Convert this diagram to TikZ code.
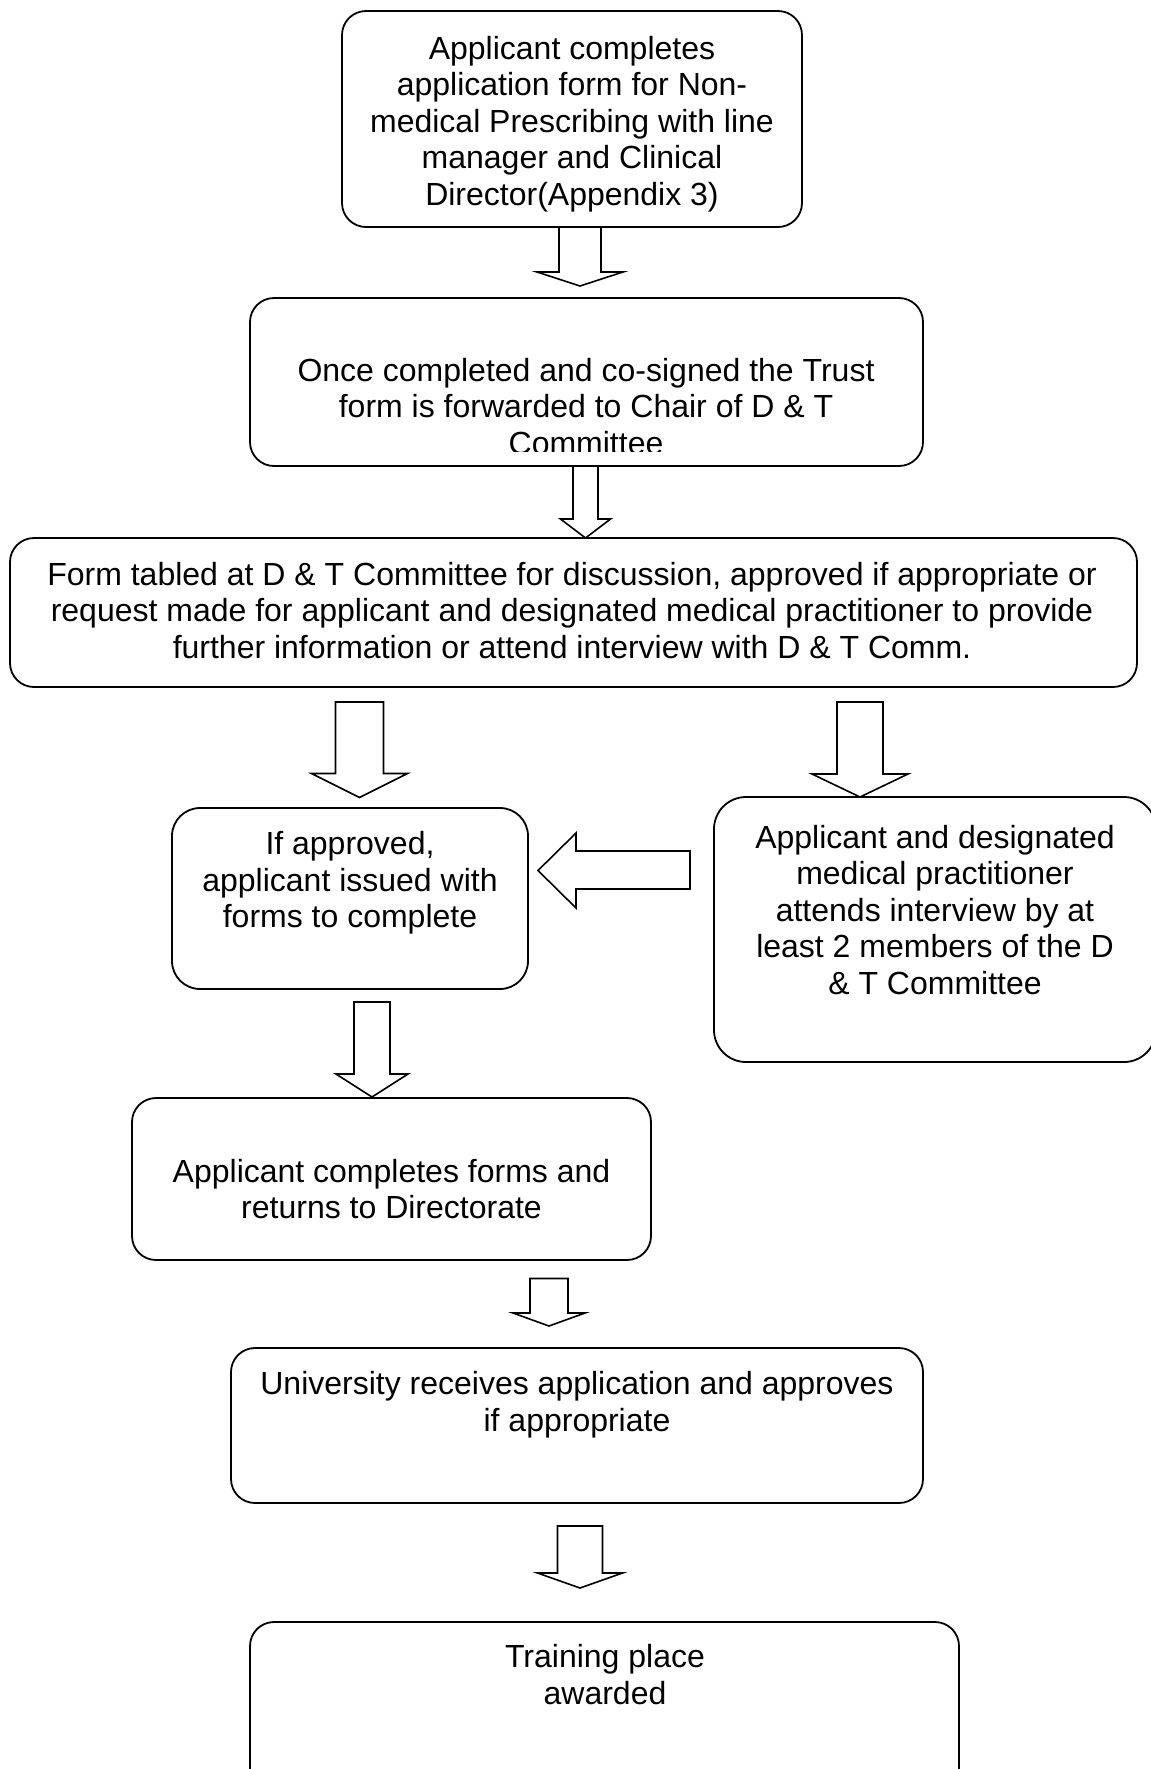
\documentclass[tikz,border=0pt]{standalone}
\usepackage{fontspec}
\setmainfont{Liberation Sans}
\newcommand{\dnarrow}[6]{%
  \draw[blk] (#1-#5,#2) -- (#1+#5,#2) -- (#1+#5,#3) -- (#1+#6,#3) -- (#1,#4) -- (#1-#6,#3) -- (#1-#5,#3) -- cycle;}
\begin{document}
\begin{tikzpicture}[x=0.5pt,y=-0.5pt,
  box/.style={draw=black, line width=0.9pt, rounded corners=12pt, rectangle, inner sep=0pt, outer sep=0pt},
  txt/.style={align=center, inner sep=0pt, outer sep=0pt, font=\fontsize{16}{18.25}\selectfont},
  blk/.style={draw=black, line width=0.8pt, fill=white, line join=miter}]
\useasboundingbox (0,0) rectangle (1151,1769);

% boxes
\node[box, minimum width=230pt, minimum height=108pt] (b1) at (572,119) {};
\node[box, minimum width=336.5pt, minimum height=84pt] (b2) at (586.5,382) {};
\node[box, minimum width=563.5pt, minimum height=74.5pt] (b3) at (573.5,612.5) {};
\node[box, minimum width=178pt, minimum height=90.5pt, rounded corners=14pt] (b4) at (350,898.5) {};
\node[box, minimum width=221pt, minimum height=132.5pt, rounded corners=16pt] (b5) at (935,929.5) {};
\node[box, minimum width=259.5pt, minimum height=81pt] (b6) at (391.5,1179) {};
\node[box, minimum width=346pt, minimum height=77.5pt] (b7) at (577,1425.5) {};
\node[box, minimum width=354.5pt, minimum height=89pt] (b8) at (604.5,1711) {};

% texts
\node[txt] (t1) at (572,125) {\strut Applicant completes\\application form for Non-\\medical Prescribing with line\\manager and Clinical\\Director(Appendix 3)\strut};
\begin{scope}
  \clip (250,298) rectangle (923,451);
  \node[txt] (t2) at (586,410.5) {\strut Once completed and co-signed the Trust\\form is forwarded to Chair of D \& T\\Committee\strut};
\end{scope}
\node[txt] (t3) at (572,614.2) {\strut Form tabled at D \& T Committee for discussion, approved if appropriate or\\request made for applicant and designated medical practitioner to provide\\further information or attend interview with D \& T Comm.\strut};
\node[txt] (t4) at (350,884) {\strut If approved,\\applicant issued with\\forms to complete\strut};
\node[txt] (t5) at (935,914) {\strut Applicant and designated\\medical practitioner\\attends interview by at\\least 2 members of the D\\\& T Committee\strut};
\node[txt] (t6) at (391.5,1193) {\strut Applicant completes forms and\\returns to Directorate\strut};
\node[txt] (t7) at (577,1405.5) {\strut University receives application and approves\\if appropriate\strut};
\node[txt] (t8) at (605,1678.5) {\strut Training place\\awarded\strut};

% block arrows
\dnarrow{580}{227}{272}{286}{21}{43}
\dnarrow{585.5}{466}{519}{538}{12.5}{25}
\dnarrow{359.5}{702}{773.5}{797.5}{24}{48}
\dnarrow{860}{702}{774}{797}{23}{48}
\draw[blk] (690,851) -- (576,851) -- (576,833) -- (538,870.5) -- (576,908) -- (576,889) -- (690,889) -- cycle;
\dnarrow{372}{1002}{1074}{1097}{18}{36}
\dnarrow{549}{1278.5}{1313}{1326}{19}{36}
\dnarrow{580}{1526}{1573}{1588}{22.5}{42.5}
\end{tikzpicture}
\end{document}
